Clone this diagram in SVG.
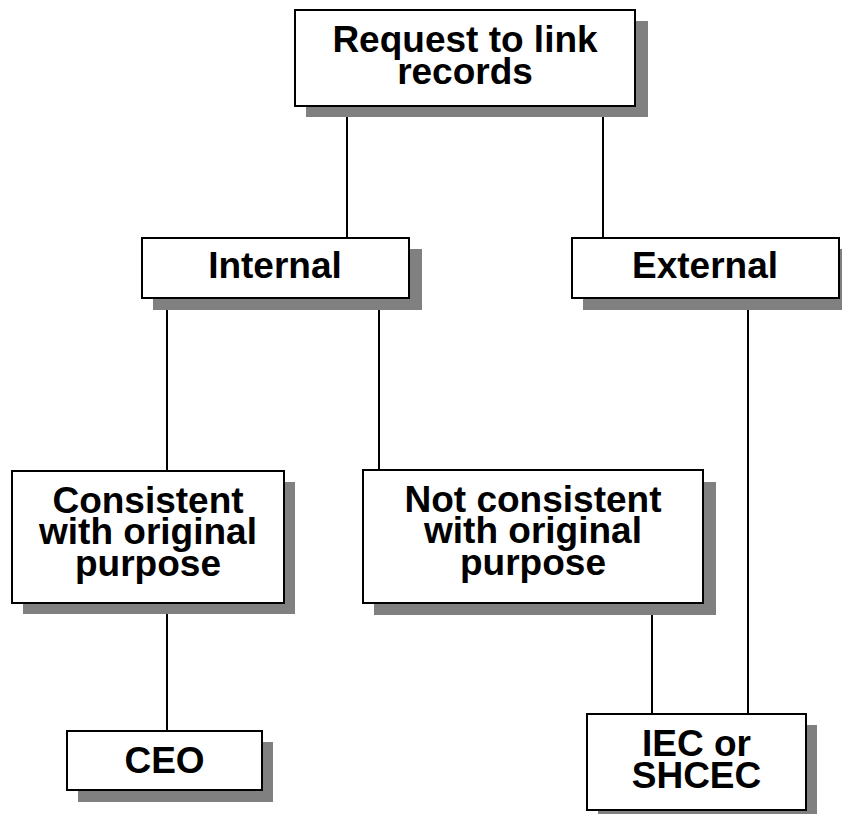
<svg xmlns="http://www.w3.org/2000/svg" width="842" height="814" viewBox="0 0 842 814">
<style>
.box{fill:#fff;stroke:#000;stroke-width:2}
.sh{fill:#808080}
.t{font-family:"Liberation Sans",Arial,sans-serif;font-weight:bold;font-size:37px;fill:#000;text-anchor:middle}
.c{stroke:#000;stroke-width:2;fill:none}
</style>
<rect width="842" height="814" fill="#fff"/>
<g id="connectors">
<line class="c" x1="347" y1="106" x2="347" y2="238"/>
<line class="c" x1="603" y1="106" x2="603" y2="238"/>
<line class="c" x1="167" y1="298" x2="167" y2="471"/>
<line class="c" x1="379" y1="298" x2="379" y2="471"/>
<line class="c" x1="748" y1="298" x2="748" y2="714"/>
<line class="c" x1="167" y1="603" x2="167" y2="731"/>
<line class="c" x1="652" y1="603" x2="652" y2="714"/>
</g>
<g id="request">
<rect class="sh" x="306" y="21" width="342" height="96"/>
<rect class="box" x="295" y="10" width="340" height="96"/>
<text class="t" x="465" y="52">Request to link</text>
<text class="t" x="465" y="84">records</text>
</g>
<g id="internal">
<rect class="sh" x="153" y="249" width="269" height="61"/>
<rect class="box" x="142" y="238" width="267" height="60"/>
<text class="t" x="275" y="278">Internal</text>
</g>
<g id="external">
<rect class="sh" x="583" y="249" width="269" height="61"/>
<rect class="box" x="572" y="238" width="267" height="60"/>
<text class="t" x="705" y="278">External</text>
</g>
<g id="consistent">
<rect class="sh" x="23" y="482" width="272" height="132"/>
<rect class="box" x="12" y="471" width="272" height="132"/>
<text class="t" x="148" y="512.5">Consistent</text>
<text class="t" x="148" y="544">with original</text>
<text class="t" x="148" y="575.5">purpose</text>
</g>
<g id="notconsistent">
<rect class="sh" x="374" y="482" width="342" height="133"/>
<rect class="box" x="363" y="470" width="340" height="133"/>
<text class="t" x="533" y="511.5">Not consistent</text>
<text class="t" x="533" y="543">with original</text>
<text class="t" x="533" y="574.5">purpose</text>
</g>
<g id="ceo">
<rect class="sh" x="78" y="742" width="195" height="60"/>
<rect class="box" x="67" y="731" width="195" height="59"/>
<text class="t" x="164.5" y="773">CEO</text>
</g>
<g id="iec">
<rect class="sh" x="598" y="725" width="219" height="96"/>
<rect class="box" x="587" y="714" width="219" height="96"/>
<text class="t" x="696.5" y="756">IEC or</text>
<text class="t" x="696.5" y="788">SHCEC</text>
</g>
</svg>
